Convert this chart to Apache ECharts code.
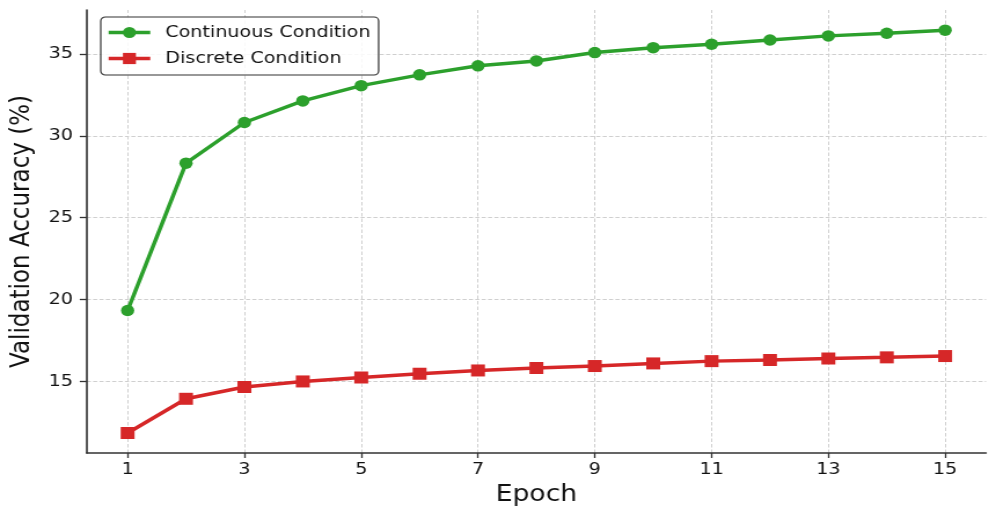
<!DOCTYPE html>
<html>
<head>
<meta charset="utf-8">
<script src="https://cdn.jsdelivr.net/npm/echarts@6/dist/echarts.min.js"></script>
<style>
html,body{margin:0;padding:0;background:#fff;overflow:hidden;width:996px;height:518px;}
#c{width:860px;height:518px;transform:scaleX(1.15814);transform-origin:0 0;}
</style>
</head>
<body>
<div id="c"></div>
<script>
const epochs = [1, 2, 3, 4, 5, 6, 7, 8, 9, 10, 11, 12, 13, 14, 15];
const continuousAcc = [19.33, 28.33, 30.81, 32.13, 33.06, 33.72, 34.27, 34.57, 35.08, 35.38, 35.59, 35.85, 36.10, 36.26, 36.45];
const discreteAcc = [11.85, 13.94, 14.66, 15.00, 15.24, 15.47, 15.67, 15.82, 15.94, 16.10, 16.24, 16.31, 16.40, 16.47, 16.55];
const xTickValues = [1, 3, 5, 7, 9, 11, 13, 15];
const yTickValues = [15, 20, 25, 30, 35];
const seriesNames = ['Continuous Condition', 'Discrete Condition'];

const FONT = 'DejaVu Sans';
const chart = echarts.init(document.getElementById('c'), null, {renderer: 'canvas'});

const axisLine = {show: true, lineStyle: {color: '#333', width: 1.6}};
const gridMarkLine = {
  silent: true,
  z: 0,
  symbol: ['none', 'none'],
  label: {show: false},
  emphasis: {disabled: true},
  animation: false,
  lineStyle: {color: '#cfcfcf', width: 1, type: [3.5, 2]},
  data: xTickValues.map(v => ({xAxis: v})).concat(yTickValues.map(v => ({yAxis: v})))
};

chart.setOption({
  animation: false,
  backgroundColor: '#fff',
  grid: {left: 71.7, right: 8.6, top: 10, bottom: 65, containLabel: false},
  legend: {
    orient: 'vertical',
    left: 87,
    top: 17,
    padding: [7, 7, 8, 5],
    itemWidth: 36,
    itemHeight: 14,
    itemGap: 9,
    backgroundColor: 'rgba(255,255,255,0.85)',
    borderColor: '#333',
    borderWidth: 1.2,
    borderRadius: 4,
    lineStyle: {width: 3.5},
    textStyle: {fontFamily: FONT, fontSize: 16.5, color: '#111', lineHeight: 14, padding: [0, 0, 0, 8]},
    data: seriesNames
  },
  xAxis: {
    type: 'value',
    min: 0.3,
    max: 15.7,
    name: 'Epoch',
    nameLocation: 'middle',
    nameGap: 28.5,
    nameTextStyle: {fontFamily: FONT, fontSize: 23, color: '#111', lineHeight: 23},
    axisLine: axisLine,
    axisTick: {show: true, length: 5, customValues: xTickValues, lineStyle: {color: '#333', width: 1.3}},
    axisLabel: {customValues: xTickValues, fontFamily: FONT, fontSize: 16.5, color: '#111', margin: 9, lineHeight: 16},
    splitLine: {show: false}
  },
  yAxis: {
    type: 'value',
    min: 10.63,
    max: 37.68,
    name: 'Validation Accuracy (%)',
    nameLocation: 'middle',
    nameGap: 36,
    nameRotate: 90,
    nameTextStyle: {fontFamily: FONT, fontSize: 23, color: '#111', lineHeight: 23},
    axisLine: axisLine,
    axisTick: {show: true, length: 6, customValues: yTickValues, lineStyle: {color: '#333', width: 1.3}},
    axisLabel: {customValues: yTickValues, fontFamily: FONT, fontSize: 16.5, color: '#111', margin: 12},
    splitLine: {show: false}
  },
  series: [
    {
      name: 'grid',
      type: 'line',
      data: [],
      silent: true,
      z: 0,
      markLine: gridMarkLine
    },
    {
      name: seriesNames[1],
      type: 'line',
      data: epochs.map((e, i) => [e, discreteAcc[i]]),
      symbol: 'rect',
      symbolSize: 12,
      lineStyle: {color: '#d62728', width: 3.5},
      itemStyle: {color: '#d62728'},
      z: 2
    },
    {
      name: seriesNames[0],
      type: 'line',
      data: epochs.map((e, i) => [e, continuousAcc[i]]),
      symbol: 'circle',
      symbolSize: 11.5,
      lineStyle: {color: '#2ca02c', width: 3.5},
      itemStyle: {color: '#2ca02c'},
      z: 3
    }
  ]
});
</script>
</body>
</html>
